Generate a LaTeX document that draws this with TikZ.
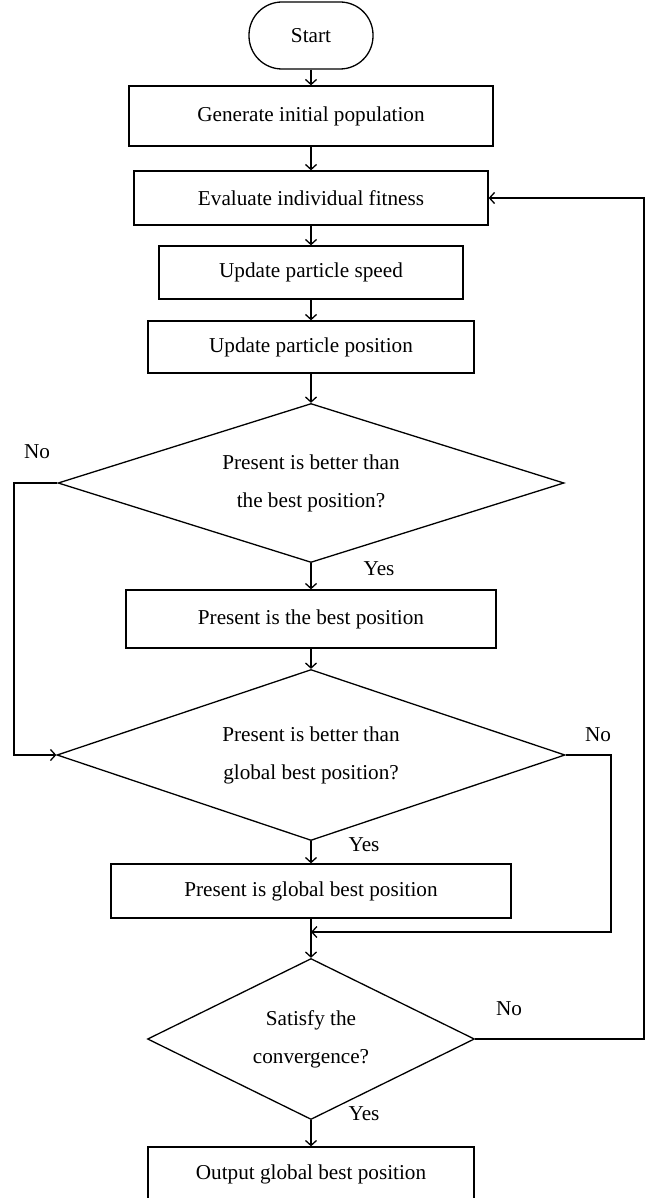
\documentclass[tikz,border=0pt]{standalone}
\usepackage{fontspec}
\setmainfont{Liberation Serif}
\usetikzlibrary{shapes.geometric,arrows.meta}

\begin{document}
\begin{tikzpicture}[x=1pt,y=-1pt,
    font=\fontsize{21.2}{38}\selectfont,
    line width=1.3pt,
    box/.style={draw, rectangle, inner sep=0pt},
    decision/.style={draw, diamond, inner sep=0pt, align=center},
    arr/.style={-{Straight Barb[length=5pt,width=11pt]}}]
                \useasboundingbox (0,0) rectangle (648,1198);
                \clip (0,0) rectangle (648,1198);
                \def\mx{311}
                \coordinate (loopL) at (14,0);
                \coordinate (loopR) at (611,0);
                \coordinate (loopF) at (644,0);
                \coordinate (join) at (\mx,932);
                \node[box, rounded corners=33pt, minimum width=124, minimum height=67] (start) at (\mx,35.5) {Start};
                \node[box, minimum width=364, minimum height=60] (gen) at (\mx,116) {Generate initial population};
                \node[box, minimum width=354, minimum height=54] (eval) at (\mx,198) {Evaluate individual fitness};
                \node[box, minimum width=304, minimum height=53] (speed) at (\mx,272.5) {Update particle speed};
                \node[box, minimum width=326, minimum height=52] (pos) at (\mx,347) {Update particle position};
                \node[decision, minimum width=506, minimum height=159, aspect=3.2] (d1) at (\mx,483) {Present is better than\\the best position?};
                \node[box, minimum width=370, minimum height=58] (best) at (\mx,619) {Present is the best position};
                \node[decision, minimum width=508, minimum height=171, aspect=3] (d2) at (\mx,755) {Present is better than\\global best position?};
                \node[box, minimum width=400, minimum height=54] (gbest) at (\mx,891) {Present is global best position};
                \node[decision, minimum width=327, minimum height=161, aspect=2] (d3) at (\mx,1039) {Satisfy the\\convergence?};
                \node[box, minimum width=326, minimum height=54] (out) at (\mx,1174) {Output global best position};
                \node (no1) at (37,452) {No};
                \node (yes1) at (379,569) {Yes};
                \node (no2) at (598,735) {No};
                \node (yes2) at (364,845) {Yes};
                \node (no3) at (509,1009) {No};
                \node (yes3) at (364,1114) {Yes};
                \draw[arr] (start) -- (gen);
                \draw[arr] (gen) -- (eval);
                \draw[arr] (eval) -- (speed);
                \draw[arr] (speed) -- (pos);
                \draw[arr] (pos) -- (d1);
                \draw[arr] (d1) -- (best);
                \draw[arr] (best) -- (d2);
                \draw[arr] (d2) -- (gbest);
                \draw[arr] (gbest) -- (d3);
                \draw[arr] (d1.west) -- (d1.west -| loopL) |- (d2.west);
                \draw[arr] (d2.east) -- (d2.east -| loopR) |- (join);
                \draw[arr] (d3.east) -- (d3.east -| loopF) |- (eval.east);
                \draw[arr] (d3) -- (out);
            \end{tikzpicture}
\end{document}
